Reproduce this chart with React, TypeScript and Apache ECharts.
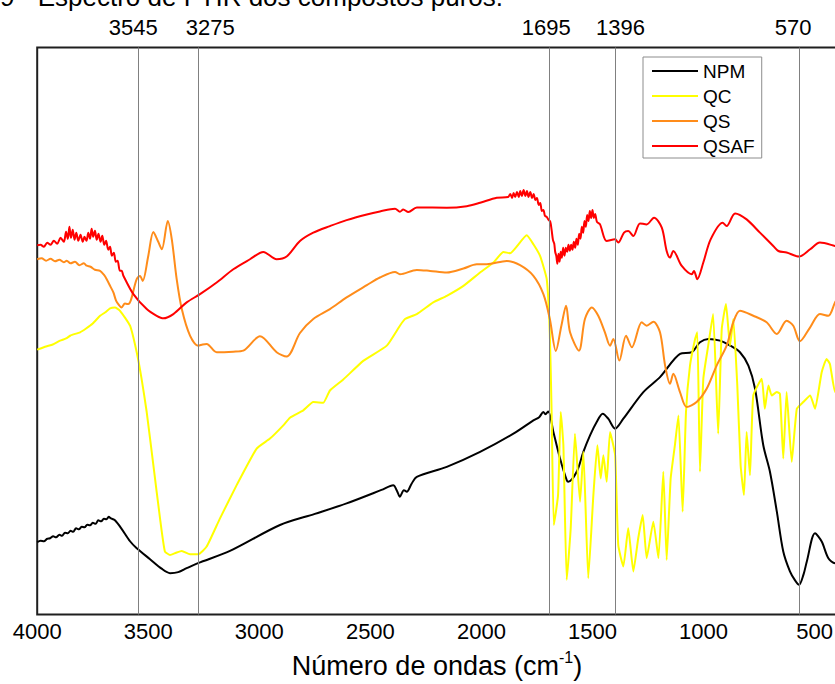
import React, { useEffect, useRef } from "react";
import * as echarts from "echarts";

const FONT = "'Liberation Sans', Arial, Helvetica, sans-serif";

const captionText = "Figura 9 - Espectro de FTIR dos compostos puros.";
const axisTitle = "{a|Número de ondas (cm}{b|-1}{a|)}";
const seriesNames = ["NPM", "QC", "QS", "QSAF"];
const seriesColors = ["#000000", "#ffff00", "#ff8c1a", "#ff0000"];
const xTickValues = [4000, 3500, 3000, 2500, 2000, 1500, 1000, 500];
const bandPositions = [3545, 3275, 1695, 1396, 570];

// small horizontal nudges (px) for the band labels above the frame
const bandLabelNudge: Record<number, number> = { 3545: -5, 3275: 12, 1695: -3, 1396: 5, 570: -6 };

// transmittance (arbitrary units) vs wavenumber (cm-1)
const npm: [number, number][] = [
  [4000, 72.5], [3985, 74], [3970, 73.5], [3955, 76], [3942, 76.5], [3928, 78.5], [3915, 77.5], [3900, 80],
  [3888, 79], [3875, 82], [3862, 81.5], [3850, 84], [3838, 83], [3825, 86.5], [3812, 85.5], [3800, 88],
  [3787, 87.5], [3775, 90], [3762, 89.5], [3750, 92], [3737, 91], [3725, 94.5], [3712, 93.5], [3700, 96],
  [3688, 95.5], [3678, 98], [3668, 96.5], [3650, 94.5], [3620, 86], [3582, 73.5], [3552, 66.5], [3492, 55.5],
  [3440, 46], [3402, 41.5], [3365, 42.5], [3327, 46.5], [3276, 51.5], [3132, 63.8], [2907, 89.8], [2750, 101],
  [2607, 111.5], [2450, 125], [2397, 129.8], [2380, 124], [2367, 118.2], [2349, 124.8], [2336, 123.2], [2315, 131],
  [2291, 138.2], [2156, 148.2], [2006, 163.2], [1856, 181.5], [1766, 194.8], [1740, 198], [1721, 203.2], [1712, 201],
  [1699, 203.8], [1676, 183.2], [1646, 156.5], [1616, 134.8], [1609, 133.2], [1571, 143.2], [1541, 163.2], [1511, 179.8],
  [1481, 193.2], [1454, 201.5], [1429, 196.5], [1398, 186.5], [1361, 196.5], [1271, 223.2], [1196, 238.2], [1106, 261.5],
  [1053, 263.2], [1016, 273.2], [978, 276.5], [926, 274.8], [880, 269.8], [836, 263.2], [798, 249.8], [768, 226.5],
  [731, 169.8], [701, 143.2], [670, 103.2], [641, 63.2], [611, 43.2], [590, 35], [570, 29.8], [550, 40],
  [535, 53.2], [498, 81.5], [468, 73.2], [438, 56.5], [408, 51.5], [400, 52],
];

const qc: [number, number][] = [
  [4000, 265.8], [3960, 269], [3930, 271], [3897, 274.8], [3870, 277], [3850, 280], [3807, 283.2], [3780, 287],
  [3750, 292], [3717, 299.8], [3695, 303], [3672, 307.2], [3650, 308], [3627, 304.8], [3582, 289.8], [3552, 263.2],
  [3530, 236.5], [3507, 203.2], [3477, 149.8], [3447, 96.5], [3425, 63.2], [3402, 59.8], [3375, 62], [3349, 63.8],
  [3312, 60.5], [3275, 60.5], [3237, 68.2], [3177, 96.5], [3102, 129.8], [3012, 166.5], [2952, 176.5], [2892, 189.8],
  [2862, 197.5], [2802, 204.8], [2757, 213.2], [2712, 212.5], [2682, 224.8], [2622, 235.8], [2532, 254.5], [2426, 269.8],
  [2367, 289.8], [2344, 296.5], [2291, 301.5], [2217, 313.2], [2156, 319.8], [2081, 329.8], [2006, 343.2], [1946, 353.2],
  [1901, 363.8], [1871, 362.5], [1796, 380.5], [1766, 371.5], [1736, 359.8], [1706, 336.5], [1692, 281.5], [1684, 203.2],
  [1674, 89.8], [1655, 119.8], [1643, 203.2], [1631, 169.8], [1616, 34.8], [1598, 86.5], [1579, 181.5], [1556, 113.2],
  [1541, 163.2], [1519, 36.5], [1496, 119.8], [1478, 169.8], [1463, 136.5], [1451, 159.8], [1436, 133.2], [1421, 183.2],
  [1398, 159.8], [1384, 69.8], [1361, 48.2], [1339, 86.5], [1316, 43.2], [1294, 76.5], [1274, 99.8], [1256, 56.5],
  [1226, 93.2], [1203, 56.5], [1181, 143.2], [1166, 54.8], [1148, 136.5], [1129, 169.8], [1113, 199.8], [1094, 103.2],
  [1079, 203.2], [1061, 249.8], [1038, 276.5], [1028, 283.2], [1016, 143.2], [1001, 236.5], [979, 269.8], [957, 301.5],
  [934, 181.5], [918, 286.5], [899, 311.5], [881, 269.8], [866, 296.5], [848, 229.8], [833, 149.8], [818, 119.8],
  [806, 183.2], [791, 139.8], [776, 219.8], [738, 236.5], [724, 206.5], [708, 229.8], [693, 219.8], [670, 223.2],
  [656, 221.5], [641, 156.5], [626, 223.2], [603, 153.2], [580, 206.5], [551, 213.2], [520, 219.8], [498, 206.5],
  [468, 243.2], [446, 256.5], [431, 251.5], [408, 223.2], [400, 225],
];

const qs: [number, number][] = [
  [4000, 356.5], [3980, 357.5], [3960, 355], [3940, 357], [3920, 354.5], [3900, 356], [3880, 353.5], [3867, 355],
  [3850, 352.5], [3830, 354], [3810, 350.5], [3790, 352.5], [3777, 350], [3760, 349], [3740, 346], [3717, 344.8],
  [3700, 341], [3687, 336.5], [3670, 329], [3657, 323.2], [3645, 315], [3635, 311.5], [3620, 308.2], [3605, 312],
  [3590, 311.5], [3552, 336.5], [3537, 339.8], [3525, 334.8], [3500, 359.8], [3477, 383.8], [3455, 374], [3439, 366.5],
  [3412, 394.8], [3394, 376.5], [3372, 336.5], [3349, 306.5], [3312, 279.8], [3275, 269.8], [3255, 271], [3237, 271.5],
  [3192, 263.2], [3117, 263.8], [3072, 264.8], [2997, 279.2], [2922, 263.2], [2877, 258.8], [2817, 282.5], [2757, 296.5],
  [2682, 306.5], [2607, 318.2], [2516, 330.5], [2457, 338.2], [2389, 343.8], [2367, 341.5], [2291, 345.8], [2231, 344.8],
  [2156, 343.2], [2081, 347.2], [2021, 351.5], [1976, 351.5], [1886, 354.8], [1826, 350.5], [1766, 339.8], [1721, 321.5],
  [1692, 296.5], [1665, 264.5], [1640, 289.8], [1619, 309.8], [1601, 283.2], [1561, 264.8], [1534, 296.5], [1503, 308.2],
  [1474, 299.8], [1444, 283.2], [1421, 269.8], [1406, 276.5], [1379, 254.8], [1349, 279.8], [1323, 268.2], [1278, 293.2],
  [1256, 289.8], [1226, 293.8], [1196, 283.2], [1173, 249.8], [1151, 231.5], [1136, 241.5], [1106, 223.2], [1076, 208.2],
  [1031, 213.2], [986, 226.5], [941, 249.8], [896, 269.8], [866, 293.2], [836, 304.8], [776, 299.8], [716, 293.2],
  [670, 281.5], [626, 294.8], [596, 289.8], [566, 274.2], [520, 288.2], [476, 301.5], [438, 299.8], [408, 313.2],
  [400, 316],
];

const qsaf: [number, number][] = [
  [4000, 370.5], [3985, 371], [3970, 369], [3955, 373], [3940, 371], [3925, 375], [3910, 372], [3895, 378],
  [3880, 374], [3870, 384], [3862, 377], [3855, 389], [3848, 378], [3840, 386], [3832, 376], [3824, 383],
  [3815, 375], [3805, 381], [3795, 374], [3787, 379], [3778, 375], [3770, 383], [3762, 377], [3755, 387],
  [3748, 379], [3740, 385], [3732, 376], [3724, 382], [3715, 374], [3707, 380], [3698, 371], [3690, 375],
  [3680, 366], [3672, 369], [3664, 360], [3655, 363], [3646, 354], [3638, 355], [3628, 345], [3620, 345],
  [3612, 340], [3567, 321.5], [3507, 306.5], [3462, 299.8], [3432, 297.2], [3387, 301.5], [3327, 313.2], [3267, 321.5],
  [3192, 333.2], [3117, 346.5], [3042, 356.5], [2982, 363.8], [2922, 356.5], [2877, 359.2], [2817, 374.8], [2757, 383.2],
  [2682, 389.8], [2607, 395.8], [2516, 401.5], [2457, 404.5], [2389, 407.2], [2367, 404.2], [2352, 406.5], [2329, 403.8],
  [2291, 408.5], [2156, 408.2], [2066, 409.8], [2006, 413.2], [1931, 418.2], [1880, 419], [1870, 422], [1862, 418],
  [1855, 423], [1848, 419], [1840, 424], [1832, 419], [1825, 425], [1818, 420], [1810, 426], [1802, 420],
  [1795, 425], [1788, 419], [1780, 424], [1772, 418], [1765, 422], [1757, 416], [1750, 418], [1742, 411],
  [1735, 413], [1728, 405], [1721, 406], [1714, 400], [1706, 399], [1699, 396.5], [1690, 394], [1684, 386],
  [1678, 376], [1672, 372], [1668, 364], [1663, 360], [1658, 352], [1653, 362], [1648, 354], [1643, 364],
  [1638, 358], [1632, 368], [1626, 360], [1620, 368], [1614, 364], [1608, 371], [1602, 365], [1596, 371],
  [1590, 366], [1584, 374], [1578, 368], [1572, 377], [1566, 371], [1560, 382], [1554, 377], [1548, 389],
  [1542, 383], [1536, 395], [1530, 389], [1524, 401], [1518, 395], [1512, 405], [1506, 398], [1500, 406],
  [1494, 398], [1488, 402], [1480, 394], [1466, 391.5], [1436, 374.8], [1398, 376.5], [1384, 373.2], [1358, 383.2],
  [1339, 384.8], [1316, 379.8], [1286, 392.5], [1256, 391.5], [1223, 398.2], [1188, 388.2], [1166, 364.8], [1151, 358.2],
  [1136, 364.8], [1098, 349.8], [1053, 341.5], [1043, 344.8], [1028, 336.5], [1001, 353.2], [968, 376.5], [914, 393.2],
  [896, 389.8], [858, 402.5], [806, 396.5], [746, 383.2], [686, 369.8], [663, 364.8], [626, 363.2], [570, 359.2],
  [520, 366.5], [476, 373.2], [408, 369.8], [400, 369],
];

const spectra = [npm, qc, qs, qsaf];

export default function App() {
  const ref = useRef<HTMLDivElement | null>(null);

  useEffect(() => {
    if (!ref.current) return;
    const chart = echarts.init(ref.current, null, { renderer: "svg" });

    const series: any[] = spectra.map((data, i) => ({
      name: seriesNames[i],
      type: "line",
      data,
      symbol: "none",
      smooth: i === 1 ? 0.15 : 0.3,
      lineStyle: { color: seriesColors[i], width: 2 },
      itemStyle: { color: seriesColors[i] },
      z: 3,
    }));

    // vertical band markers with their wavenumber labels on top
    series[0].markLine = {
      silent: true,
      symbol: ["none", "none"],
      animation: false,
      lineStyle: { color: "#808080", width: 1, type: "solid" },
      label: {
        show: true,
        position: "end",
        distance: 9,
        formatter: (p: any) => String(p.value),
        fontSize: 22,
        color: "#000",
        fontFamily: FONT,
      },
      data: bandPositions.map((v) => {
        const n = bandLabelNudge[v] || 0;
        return {
          xAxis: v,
          label: { padding: n >= 0 ? [0, 0, 0, 2 * n] : [0, -2 * n, 0, 0] },
        };
      }),
    };

    chart.setOption({
      animation: false,
      textStyle: { fontFamily: FONT },
      grid: {
        left: 37.2,
        right: 3.2,
        top: 47.5,
        bottom: 67.5,
        show: true,
        borderColor: "#1f1f1f",
        borderWidth: 2,
        backgroundColor: "transparent",
      },
      legend: {
        orient: "vertical",
        left: 643,
        top: 57,
        data: seriesNames,
        icon: "rect",
        itemWidth: 46,
        itemHeight: 2,
        itemGap: 5,
        padding: [4, 7, 2, 9],
        borderColor: "#8c8c8c",
        borderWidth: 1,
        borderRadius: 0,
        selectedMode: false,
        textStyle: { fontSize: 19, lineHeight: 20, color: "#000", fontFamily: FONT },
      },
      xAxis: {
        type: "value",
        min: 400,
        max: 4000,
        inverse: true,
        name: axisTitle,
        nameLocation: "middle",
        nameGap: 35,
        nameTextStyle: {
          rich: {
            a: { fontSize: 27, lineHeight: 32, color: "#000", fontFamily: FONT },
            b: { fontSize: 16, lineHeight: 17, verticalAlign: "top", color: "#000", fontFamily: FONT },
          },
        },
        axisLine: { show: false },
        axisTick: { show: false },
        splitLine: { show: false },
        axisLabel: {
          customValues: xTickValues,
          formatter: (v: number) => String(v),
          fontSize: 22,
          color: "#000",
          margin: 6,
          fontFamily: FONT,
        },
      },
      yAxis: {
        type: "value",
        min: 0,
        max: 569,
        show: false,
        splitLine: { show: false },
      },
      graphic: [
        {
          type: "text",
          x: 503,
          y: -3.5,
          silent: true,
          style: {
            text: captionText,
            fontSize: 26,
            fontFamily: FONT,
            fill: "#000",
            align: "right",
            verticalAlign: "middle",
          },
        },
      ],
      series,
    });

    return () => chart.dispose();
  }, []);

  return (
    <div
      style={{
        position: "fixed",
        left: 0,
        top: 0,
        width: 835,
        height: 684,
        overflow: "hidden",
        background: "#fff",
      }}
    >
      <div ref={ref} style={{ width: 840, height: 684 }} />
    </div>
  );
}
